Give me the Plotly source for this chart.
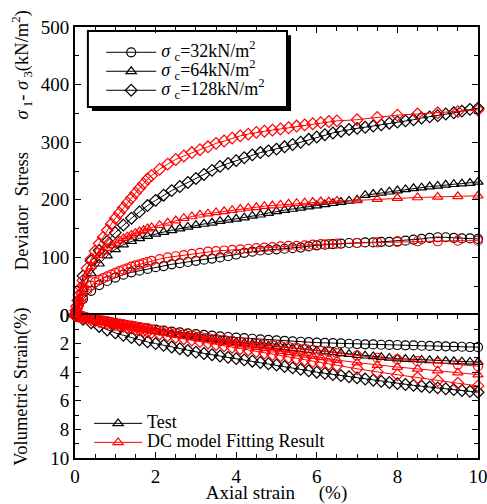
import plotly.graph_objects as go

# ---------------- data ----------------
strain_test = [0.0, 0.2, 0.4, 0.6, 0.8, 1.0, 1.2, 1.4, 1.6, 1.8, 2.0, 2.2, 2.4, 2.6, 2.8,
               3.0, 3.2, 3.4, 3.6, 3.8, 4.0, 4.2, 4.4, 4.6, 4.8, 5.0, 5.2, 5.4, 5.6, 5.8,
               6.0, 6.2, 6.4, 6.6, 6.8, 7.0, 7.2, 7.4, 7.6, 7.8, 8.0, 8.2, 8.4, 8.6, 8.8,
               9.0, 9.2, 9.4, 9.6, 9.8, 10.0]

dev_test_32 = [0, 28, 42, 52, 59, 65, 70, 74, 77, 80, 83, 85, 88, 90, 92,
               94, 96, 98, 100, 102, 105, 108, 110, 112, 113, 114, 115, 116, 117, 119,
               121, 122, 123, 124, 125, 125, 126, 126, 127, 127, 128, 129, 131, 132, 134,
               135, 135, 134, 133, 133, 132]
dev_test_64 = [0, 45, 72, 89, 103, 114, 122, 128, 133, 137, 141, 144, 147, 150, 153,
               156, 158, 160, 163, 165, 167, 169, 172, 174, 177, 180, 182, 184, 186, 188,
               190, 192, 194, 196, 198, 200, 208, 210, 212, 214, 216, 218, 220, 221, 223,
               224, 226, 227, 228, 229, 231]
dev_test_128 = [0, 68, 94, 112, 128, 143, 156, 168, 179, 190, 199, 208, 216, 223, 230,
                237, 244, 251, 258, 263, 268, 273, 278, 282, 285, 288, 292, 296, 300, 305,
                309, 313, 316, 319, 322, 324, 326, 328, 330, 333, 335, 337, 339, 342, 344,
                346, 349, 351, 354, 357, 359]

vol_test_32 = [0.0, 0.12, 0.24, 0.36, 0.47, 0.58, 0.68, 0.77, 0.86, 0.94, 1.02, 1.09, 1.16, 1.22, 1.28,
               1.34, 1.39, 1.44, 1.49, 1.54, 1.58, 1.62, 1.66, 1.70, 1.74, 1.78, 1.81, 1.84, 1.87, 1.90,
               1.93, 1.95, 1.97, 1.99, 2.01, 2.03, 2.05, 2.06, 2.08, 2.09, 2.10, 2.12, 2.13, 2.15, 2.16,
               2.18, 2.19, 2.21, 2.22, 2.24, 2.25]
vol_test_64 = [0.0, 0.13, 0.26, 0.38, 0.50, 0.62, 0.73, 0.83, 0.93, 1.03, 1.12, 1.21, 1.30, 1.38, 1.46,
               1.54, 1.62, 1.69, 1.76, 1.83, 1.90, 1.97, 2.03, 2.09, 2.15, 2.21, 2.27, 2.33, 2.39, 2.45,
               2.50, 2.56, 2.62, 2.68, 2.74, 2.80, 2.85, 2.90, 2.95, 3.00, 3.05, 3.08, 3.11, 3.14, 3.17,
               3.20, 3.22, 3.24, 3.26, 3.28, 3.30]
vol_test_128 = [0.0, 0.30, 0.55, 0.80, 1.05, 1.25, 1.42, 1.58, 1.73, 1.88, 2.00, 2.12, 2.24, 2.36, 2.48,
                2.60, 2.69, 2.78, 2.87, 2.96, 3.05, 3.14, 3.23, 3.32, 3.41, 3.50, 3.60, 3.70, 3.80, 3.90,
                4.00, 4.08, 4.16, 4.24, 4.32, 4.40, 4.48, 4.56, 4.64, 4.72, 4.80, 4.86, 4.92, 4.98, 5.04,
                5.10, 5.16, 5.22, 5.28, 5.34, 5.40]

strain_model = [0.0, 0.02, 0.04, 0.07, 0.1, 0.15, 0.2, 0.3, 0.4, 0.5, 0.6, 0.7, 0.8, 0.9, 1.0,
                1.1, 1.2, 1.3, 1.4, 1.5, 1.6, 1.7, 1.8, 1.9, 2.1, 2.3, 2.5, 2.7, 2.9, 3.1,
                3.3, 3.5, 3.7, 3.9, 4.1, 4.3, 4.5, 4.7, 4.9, 5.1, 5.3, 5.5, 5.7, 5.9, 6.1,
                6.3, 6.5, 7.0, 7.5, 8.0, 8.5, 9.0, 9.5, 10.0]

dev_model_32 = [0, 4, 8, 13, 18, 26, 33, 43, 51, 57, 61, 64, 67, 70, 73,
                76, 79, 81, 84, 86, 88, 90, 92, 94, 97, 100, 102, 104, 106, 108,
                110, 111, 112, 113, 114, 115, 116, 117, 118, 119, 120, 120, 121, 122, 123,
                123, 124, 125, 126, 127, 128, 128, 129, 129]
dev_model_64 = [0, 6, 12, 20, 28, 40, 52, 70, 84, 95, 104, 110, 116, 121, 125,
                129, 133, 136, 139, 142, 145, 147, 150, 152, 156, 160, 164, 168, 171, 174,
                176, 178, 180, 182, 184, 186, 187, 189, 190, 191, 193, 194, 195, 196, 197,
                197, 198, 199, 201, 203, 204, 205, 206, 207]
dev_model_128 = [0, 8, 15, 25, 35, 48, 60, 81, 97, 111, 124, 135, 147, 158, 168,
                 177, 186, 195, 203, 212, 220, 228, 236, 242, 253, 262, 270, 276, 282, 287,
                 292, 298, 302, 307, 311, 314, 317, 319, 321, 323, 325, 328, 330, 332, 334,
                 336, 337, 339, 343, 347, 349, 351, 353, 356]

vol_model_32 = [0.0, 0.01, 0.02, 0.04, 0.06, 0.09, 0.12, 0.18, 0.24, 0.30, 0.35, 0.40, 0.45, 0.50, 0.55,
                0.60, 0.65, 0.70, 0.75, 0.80, 0.85, 0.90, 0.95, 1.00, 1.10, 1.19, 1.27, 1.35, 1.43, 1.51,
                1.59, 1.66, 1.73, 1.80, 1.87, 1.94, 2.00, 2.06, 2.12, 2.18, 2.24, 2.30, 2.37, 2.44, 2.51,
                2.58, 2.66, 2.84, 2.99, 3.11, 3.23, 3.35, 3.47, 3.58]
vol_model_64 = [0.0, 0.01, 0.02, 0.04, 0.06, 0.09, 0.13, 0.19, 0.25, 0.31, 0.37, 0.42, 0.48, 0.53, 0.59,
                0.64, 0.70, 0.75, 0.80, 0.86, 0.91, 0.96, 1.01, 1.06, 1.17, 1.27, 1.37, 1.46, 1.55, 1.64,
                1.73, 1.82, 1.91, 1.99, 2.07, 2.16, 2.25, 2.34, 2.43, 2.52, 2.61, 2.70, 2.79, 2.88, 2.97,
                3.06, 3.15, 3.33, 3.50, 3.64, 3.77, 3.89, 4.03, 4.17]
vol_model_128 = [0.0, 0.02, 0.04, 0.07, 0.10, 0.14, 0.18, 0.26, 0.33, 0.39, 0.45, 0.51, 0.57, 0.63, 0.69,
                 0.75, 0.81, 0.87, 0.93, 0.99, 1.05, 1.11, 1.17, 1.23, 1.34, 1.45, 1.56, 1.66, 1.76, 1.86,
                 1.96, 2.06, 2.16, 2.26, 2.36, 2.46, 2.56, 2.66, 2.76, 2.86, 2.96, 3.06, 3.16, 3.26, 3.35,
                 3.44, 3.53, 3.76, 3.98, 4.19, 4.39, 4.58, 4.77, 4.96]

legend_texts = ["<i>σ</i> <sub>c</sub>=32kN/m<sup>2</sup>",
                "<i>σ</i> <sub>c</sub>=64kN/m<sup>2</sup>",
                "<i>σ</i> <sub>c</sub>=128kN/m<sup>2</sup>"]
source_texts = ["Test", "DC model Fitting Result"]
symbols = ["circle-open", "triangle-up-open", "diamond-open"]

FONT = "Liberation Serif"
MS = 9
TXT = 19


def big(s, size):
    return '<span style="font-size:%dpx">%s</span>' % (size, s)


fig = go.Figure()

dev_test = [dev_test_32, dev_test_64, dev_test_128]
dev_model = [dev_model_32, dev_model_64, dev_model_128]
vol_test = [vol_test_32, vol_test_64, vol_test_128]
vol_model = [vol_model_32, vol_model_64, vol_model_128]


def mk(sym, color):
    return dict(symbol=sym, size=MS, color=color, line=dict(width=1.2, color=color))


for i in range(3):
    fig.add_trace(go.Scatter(x=strain_test, y=dev_test[i], mode="lines+markers",
                             xaxis="x2", yaxis="y", cliponaxis=False, showlegend=False,
                             line=dict(color="black", width=1), marker=mk(symbols[i], "black")))
    fig.add_trace(go.Scatter(x=strain_test, y=vol_test[i], mode="lines+markers",
                             xaxis="x", yaxis="y2", cliponaxis=False, showlegend=False,
                             line=dict(color="black", width=1), marker=mk(symbols[i], "black")))
for i in range(3):
    fig.add_trace(go.Scatter(x=strain_model, y=dev_model[i], mode="lines+markers",
                             xaxis="x2", yaxis="y", cliponaxis=False, showlegend=False,
                             line=dict(color="red", width=1), marker=mk(symbols[i], "red")))
    fig.add_trace(go.Scatter(x=strain_model, y=vol_model[i], mode="lines+markers",
                             xaxis="x", yaxis="y2", cliponaxis=False, showlegend=False,
                             line=dict(color="red", width=1), marker=mk(symbols[i], "red")))

# legend entries (confining pressure)
for i in range(3):
    fig.add_trace(go.Scatter(x=[None], y=[None], mode="lines+markers",
                             name=big(legend_texts[i], 18),
                             xaxis="x2", yaxis="y", legend="legend",
                             line=dict(color="black", width=1), marker=mk(symbols[i], "black")))
# legend entries (test / model)
for name, color in zip(source_texts, ["black", "red"]):
    fig.add_trace(go.Scatter(x=[None], y=[None], mode="lines+markers", name=big(name, 18),
                             xaxis="x", yaxis="y2", legend="legend2",
                             line=dict(color=color, width=1), marker=mk("triangle-up-open", color)))

split = 0.3318
axis_common = dict(showline=True, linecolor="black", linewidth=2, ticks="inside",
                   ticklen=6, tickwidth=1.2, tickcolor="black", showgrid=False,
                   zeroline=False, automargin=False, ticklabeloverflow="allow",
                   tickfont=dict(family=FONT, size=TXT, color="black"))
minor_common = dict(ticks="inside", ticklen=4, tickcolor="black", tickwidth=1.2, showgrid=False)

fig.update_layout(
    template="none",
    width=487, height=504,
    margin=dict(l=75, r=9, t=27, b=46, autoexpand=False),
    paper_bgcolor="white", plot_bgcolor="white",
    font=dict(family=FONT, size=TXT, color="black"),
    xaxis=dict(domain=[0, 1], anchor="y2", range=[0, 10], dtick=2, mirror="ticks",
               minor=dict(dtick=0.5, **minor_common),
               title=dict(text="Axial strain&nbsp;&nbsp;&nbsp;&nbsp;&nbsp;(%)", standoff=3,
                          font=dict(family=FONT, size=TXT)),
               **axis_common),
    xaxis2=dict(domain=[0, 1], anchor="y", matches="x", range=[0, 10], dtick=2, side="top",
                showticklabels=False, minor=dict(dtick=0.5, **minor_common),
                **axis_common),
    yaxis=dict(domain=[split, 1], anchor="x2", range=[0, 500], dtick=100, mirror="ticks",
               minor=dict(dtick=50, **minor_common), **axis_common),
    yaxis2=dict(domain=[0, split], anchor="x", range=[10, 0], dtick=2, mirror="ticks",
                minor=dict(dtick=1, **minor_common), **axis_common),
    legend=dict(x=0.065, y=0.975, xanchor="left", yanchor="top", bgcolor="rgba(0,0,0,0)",
                borderwidth=0, itemwidth=50, font=dict(family=FONT, size=12)),
    legend2=dict(x=0.035, y=0.114, xanchor="left", yanchor="top", bgcolor="rgba(0,0,0,0)",
                 borderwidth=0, itemwidth=48, font=dict(family=FONT, size=12)),
    shapes=[
        dict(type="rect", xref="paper", yref="paper", x0=0.042, x1=0.536, y0=0.805, y1=0.981,
             fillcolor="black", line=dict(width=0), layer="below"),
        dict(type="rect", xref="paper", yref="paper", x0=0.032, x1=0.526, y0=0.8144, y1=0.9907,
             fillcolor="white", line=dict(color="black", width=2), layer="below"),
    ],
    annotations=[
        dict(text="Deviator&nbsp;&nbsp;Stress&nbsp;&nbsp;&nbsp;&nbsp;&nbsp;&nbsp;&nbsp;<i>σ</i><sub> 1</sub>- <i>σ</i><sub> 3</sub>(kN/m<sup>2</sup>)",
             xref="paper", yref="paper", x=-0.132, y=0.737, textangle=-90, showarrow=False,
             xanchor="center", yanchor="middle", font=dict(family=FONT, size=18.5)),
        dict(text="Volumetric Strain(%)", xref="paper", yref="paper", x=-0.132, y=0.165,
             textangle=-90, showarrow=False, xanchor="center", yanchor="middle",
             font=dict(family=FONT, size=18.5)),
    ],
)

fig.write_html("out.html", config={"displayModeBar": False},
               post_script="document.body.style.margin='0px';document.body.style.overflow='hidden';")
